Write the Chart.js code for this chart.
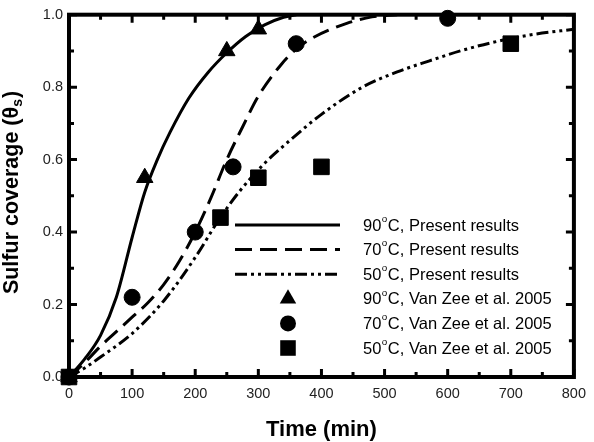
<!DOCTYPE html>
<html>
<head>
<meta charset="utf-8">
<script src="https://cdn.jsdelivr.net/npm/chart.js@4.4.1/dist/chart.umd.min.js"></script>
<style>
  html, body { margin: 0; padding: 0; background: #fff; }
  #wrap { width: 594px; height: 442px; }
</style>
</head>
<body>
<div id="wrap"><canvas id="coverageChart" width="594" height="442"></canvas></div>
<script>
// values
const xTicks = [0, 100, 200, 300, 400, 500, 600, 700, 800];
const yTicks = [0, 0.2, 0.4, 0.6, 0.8, 1.0];

// model curves (Present results)
const fitTime90 = [0, 25, 50, 75, 100, 120, 140, 160, 190, 220, 250, 280, 310, 340, 360];
const fitCov90 = [0, 0.05, 0.115, 0.22, 0.385, 0.51, 0.6, 0.675, 0.77, 0.84, 0.895, 0.94, 0.972, 0.993, 1.0];

const fitTime70 = [0, 25, 50, 75, 100, 125, 150, 175, 200, 225, 250, 275, 300, 335, 360, 385, 440, 480, 520];
const fitCov70 = [0, 0.04, 0.085, 0.125, 0.165, 0.205, 0.255, 0.32, 0.4, 0.495, 0.6, 0.69, 0.775, 0.86, 0.905, 0.935, 0.976, 0.994, 1.0];

const fitTime50 = [0, 25, 50, 100, 150, 200, 236, 270, 310, 350, 400, 465, 520, 570, 620, 670, 730, 800];
const fitCov50 = [0, 0.025, 0.055, 0.12, 0.21, 0.33, 0.43, 0.512, 0.59, 0.653, 0.725, 0.8, 0.842, 0.872, 0.9, 0.923, 0.944, 0.96];

// measured data (Van Zee et al. 2005)
const expTime90 = [0, 120, 250, 300];
const expCov90 = [0, 0.55, 0.9, 0.96];
const expTime70 = [0, 100, 200, 260, 360, 600];
const expCov70 = [0, 0.22, 0.4, 0.58, 0.92, 0.99];
const expTime50 = [0, 240, 300, 400, 700];
const expCov50 = [0, 0.44, 0.55, 0.58, 0.92];

const seriesLabels = [
    '90°C, Present results',
    '70°C, Present results',
    '50°C, Present results',
    '90°C, Van Zee et al. 2005',
    '70°C, Van Zee et al. 2005',
    '50°C, Van Zee et al. 2005'
];

const FONT = "'Liberation Sans', Arial, Helvetica, sans-serif";

function toPoints(xs, ys) {
    return xs.map((x, i) => ({ x: x, y: ys[i] }));
}

function curve(label, xs, ys, dash) {
    return {
        type: 'line',
        label: label,
        data: toPoints(xs, ys),
        borderColor: '#000',
        borderWidth: 3,
        borderDash: dash,
        borderCapStyle: 'butt',
        pointRadius: 0,
        cubicInterpolationMode: 'monotone',
        fill: false
    };
}

function markers(label, xs, ys, style, radius) {
    return {
        type: 'scatter',
        label: label,
        data: toPoints(xs, ys),
        pointStyle: style,
        pointRadius: radius,
        pointBackgroundColor: '#000',
        pointBorderColor: '#000',
        pointBorderWidth: 1,
        showLine: false,
        clip: false
    };
}

function drawMarker(ctx, style, r, x, y) {
    ctx.beginPath();
    if (style === 'triangle') {
        let rad = 0;
        ctx.moveTo(x + Math.sin(rad) * r, y - Math.cos(rad) * r);
        rad += 2 * Math.PI / 3;
        ctx.lineTo(x + Math.sin(rad) * r, y - Math.cos(rad) * r);
        rad += 2 * Math.PI / 3;
        ctx.lineTo(x + Math.sin(rad) * r, y - Math.cos(rad) * r);
        ctx.closePath();
    } else if (style === 'rect') {
        const s = Math.SQRT1_2 * r;
        ctx.rect(x - s, y - s, 2 * s, 2 * s);
    } else {
        ctx.arc(x, y, r, 0, Math.PI * 2);
    }
    ctx.fill();
}

// text like "90°C, ..." with the degree drawn as a raised small o
function drawDegreeText(ctx, text, x, y, size) {
    const parts = text.split('°');
    ctx.font = size + 'px ' + FONT;
    ctx.fillText(parts[0], x, y);
    let cx = x + ctx.measureText(parts[0]).width;
    if (parts.length > 1) {
        ctx.font = (size * 0.6) + 'px ' + FONT;
        ctx.fillText('o', cx + 0.5, y - size * 0.42);
        cx += ctx.measureText('o').width + 1;
        ctx.font = size + 'px ' + FONT;
        ctx.fillText(parts[1], cx, y);
    }
}

const framePlugin = {
    id: 'frame',
    beforeDatasetsDraw(chart) {
        const { ctx, chartArea: a, scales } = chart;
        const xs = scales.x, ys = scales.y;
        ctx.save();
        ctx.strokeStyle = '#000';
        ctx.lineWidth = 4;
        ctx.strokeRect(a.left, a.top, a.right - a.left, a.bottom - a.top);
        ctx.lineWidth = 3;
        ctx.beginPath();
        for (let t = 0; t <= 800; t += 50) {
            const px = xs.getPixelForValue(t);
            const len = t % 100 === 0 ? 8 : 5;
            ctx.moveTo(px, a.bottom);
            ctx.lineTo(px, a.bottom - len);
            ctx.moveTo(px, a.top);
            ctx.lineTo(px, a.top + len);
        }
        for (let i = 0; i <= 10; i++) {
            const py = ys.getPixelForValue(i / 10);
            const len = i % 2 === 0 ? 8 : 5;
            ctx.moveTo(a.left, py);
            ctx.lineTo(a.left + len, py);
            ctx.moveTo(a.right, py);
            ctx.lineTo(a.right - len, py);
        }
        ctx.stroke();
        ctx.restore();
    },
    afterDraw(chart) {
        const { ctx, chartArea: a } = chart;
        ctx.save();
        ctx.fillStyle = '#000';

        // x title
        ctx.font = 'bold 22px ' + FONT;
        ctx.textAlign = 'center';
        ctx.textBaseline = 'alphabetic';
        ctx.fillText('Time (min)', (a.left + a.right) / 2, 436);

        // y title with subscript s
        ctx.translate(18, 193);
        ctx.rotate(-Math.PI / 2);
        ctx.textAlign = 'left';
        const main = 'Sulfur coverage (\u03b8';
        ctx.font = 'bold 21.5px ' + FONT;
        const w1 = ctx.measureText(main).width;
        ctx.font = 'bold 14px ' + FONT;
        const w2 = ctx.measureText('s').width;
        ctx.font = 'bold 21.5px ' + FONT;
        const w3 = ctx.measureText(')').width;
        const start = -(w1 + w2 + w3) / 2;
        ctx.fillText(main, start, 0);
        ctx.font = 'bold 14px ' + FONT;
        ctx.fillText('s', start + w1, 4);
        ctx.font = 'bold 21.5px ' + FONT;
        ctx.fillText(')', start + w1 + w2 + 1, 0);
        ctx.restore();

        // legend inside the plot
        ctx.save();
        ctx.fillStyle = '#000';
        ctx.strokeStyle = '#000';
        ctx.textBaseline = 'middle';
        ctx.textAlign = 'left';
        const rowTop = 225, rowGap = 24.6;
        chart.data.datasets.forEach((ds, i) => {
            const yy = rowTop + i * rowGap;
            if (ds.type === 'line') {
                ctx.lineWidth = ds.borderWidth;
                ctx.setLineDash(ds.borderDash || []);
                ctx.lineCap = 'butt';
                ctx.beginPath();
                ctx.moveTo(235, yy);
                ctx.lineTo(340, yy);
                ctx.stroke();
                ctx.setLineDash([]);
            } else {
                drawMarker(ctx, ds.pointStyle, ds.pointRadius, 288, yy);
            }
            drawDegreeText(ctx, ds.label, 363, yy + 1, 16.5);
        });
        ctx.restore();
    }
};

const datasets = [
    curve(seriesLabels[0], fitTime90, fitCov90, []),
    curve(seriesLabels[1], fitTime70, fitCov70, [17, 8]),
    curve(seriesLabels[2], fitTime50, fitCov50, [12, 4, 3, 4, 3, 4]),
    markers(seriesLabels[3], expTime90, expCov90, 'triangle', 9.5),
    markers(seriesLabels[4], expTime70, expCov70, 'circle', 8),
    markers(seriesLabels[5], expTime50, expCov50, 'rect', 11)
];

new Chart(document.getElementById('coverageChart'), {
    type: 'scatter',
    data: { datasets: datasets },
    plugins: [framePlugin],
    options: {
        responsive: false,
        animation: false,
        devicePixelRatio: 1,
        layout: { padding: { top: 9, right: 13, left: 0, bottom: 0 } },
        plugins: {
            legend: { display: false },
            tooltip: { enabled: false }
        },
        scales: {
            x: {
                type: 'linear',
                min: 0,
                max: 800,
                grid: { display: false, drawTicks: false },
                border: { display: false },
                afterFit: s => { s.height = 65; },
                afterBuildTicks: s => { s.ticks = xTicks.map(v => ({ value: v })); },
                ticks: {
                    padding: 8,
                    color: '#222',
                    font: { family: FONT, size: 14.5 },
                    maxRotation: 0,
                    callback: v => String(v)
                }
            },
            y: {
                type: 'linear',
                min: 0,
                max: 1,
                grid: { display: false, drawTicks: false },
                border: { display: false },
                afterFit: s => { s.width = 69; },
                afterBuildTicks: s => { s.ticks = yTicks.map(v => ({ value: v })); },
                ticks: {
                    padding: 6,
                    color: '#222',
                    font: { family: FONT, size: 14.5 },
                    callback: v => v.toFixed(1)
                }
            }
        }
    }
});
</script>
</body>
</html>
